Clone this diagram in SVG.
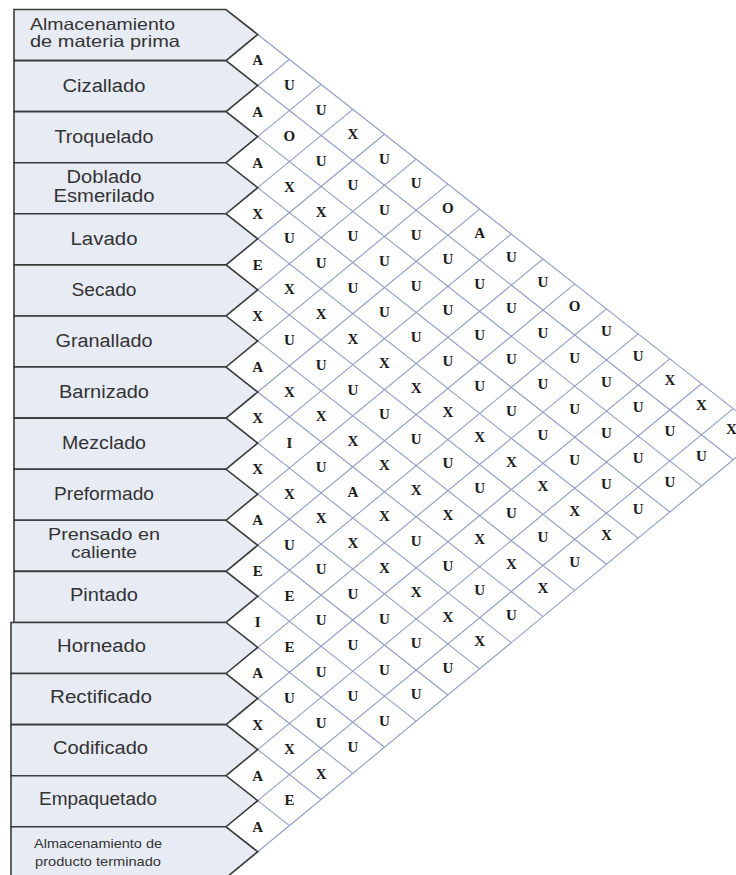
<svg xmlns="http://www.w3.org/2000/svg" width="736" height="875" viewBox="0 0 736 875">
<style>
.box{fill:#e7ebf4;stroke:#3a3a3a;stroke-width:1.6;stroke-linejoin:miter}
.lbl{font-family:"Liberation Sans",Arial,sans-serif;font-size:18px;fill:#333;text-anchor:middle}
.two{font-size:16.5px}
.sm{font-size:13.5px}
.g{fill:none;stroke:#8e9cc7;stroke-width:1.1}
.r text{font-family:"Liberation Serif","Times New Roman",serif;font-weight:bold;font-size:15px;fill:#1c1c1c;text-anchor:middle}
</style>
<rect width="736" height="875" fill="#fff"/>
<g id="grid" class="g">
<path d="M257.7,34.45 l507.2,399.2 M257.7,85.53 l475.5,374.25 M257.7,136.61 l443.8,349.3 M257.7,187.69 l412.1,324.35 M257.7,238.77 l380.4,299.4 M257.7,289.85 l348.7,274.45 M257.7,340.93 l317,249.5 M257.7,392.01 l285.3,224.55 M257.7,443.09 l253.6,199.6 M257.7,494.17 l221.9,174.65 M257.7,545.25 l190.2,149.7 M257.7,596.33 l158.5,124.75 M257.7,647.41 l126.8,99.8 M257.7,698.49 l95.1,74.85 M257.7,749.57 l63.4,49.9 M257.7,800.65 l31.7,24.95"/>
<path d="M257.7,85.53 l31.7,-26.13 M257.7,136.61 l63.4,-52.26 M257.7,187.69 l95.1,-78.39 M257.7,238.77 l126.8,-104.52 M257.7,289.85 l158.5,-130.65 M257.7,340.93 l190.2,-156.78 M257.7,392.01 l221.9,-182.91 M257.7,443.09 l253.6,-209.04 M257.7,494.17 l285.3,-235.17 M257.7,545.25 l317,-261.3 M257.7,596.33 l348.7,-287.43 M257.7,647.41 l380.4,-313.56 M257.7,698.49 l412.1,-339.69 M257.7,749.57 l443.8,-365.82 M257.7,800.65 l475.5,-391.95 M257.7,851.73 l507.2,-418.08"/>
</g>
<g id="d1"><polygon class="box" points="14,9.5 226,9.5 257.7,34.45 226,60.58 14,60.58"/><text class="lbl two" x="30" y="29.5" style="text-anchor:start" textLength="145" lengthAdjust="spacingAndGlyphs">Almacenamiento</text><text class="lbl two" x="30" y="47" style="text-anchor:start" textLength="150" lengthAdjust="spacingAndGlyphs">de materia prima</text></g>
<g id="d2"><polygon class="box" points="14,60.58 226,60.58 257.7,85.53 226,111.66 14,111.66"/><text class="lbl" x="104" y="91.5" textLength="83" lengthAdjust="spacingAndGlyphs">Cizallado</text></g>
<g id="d3"><polygon class="box" points="14,111.66 226,111.66 257.7,136.61 226,162.74 14,162.74"/><text class="lbl" x="104" y="142.5" textLength="99" lengthAdjust="spacingAndGlyphs">Troquelado</text></g>
<g id="d4"><polygon class="box" points="14,162.74 226,162.74 257.7,187.69 226,213.82 14,213.82"/><text class="lbl" x="104" y="183" textLength="75" lengthAdjust="spacingAndGlyphs">Doblado</text><text class="lbl" x="104" y="202" textLength="101" lengthAdjust="spacingAndGlyphs">Esmerilado</text></g>
<g id="d5"><polygon class="box" points="14,213.82 226,213.82 257.7,238.77 226,264.9 14,264.9"/><text class="lbl" x="104" y="245" textLength="67" lengthAdjust="spacingAndGlyphs">Lavado</text></g>
<g id="d6"><polygon class="box" points="14,264.9 226,264.9 257.7,289.85 226,315.98 14,315.98"/><text class="lbl" x="104" y="296" textLength="65" lengthAdjust="spacingAndGlyphs">Secado</text></g>
<g id="d7"><polygon class="box" points="14,315.98 226,315.98 257.7,340.93 226,367.06 14,367.06"/><text class="lbl" x="104" y="347" textLength="97" lengthAdjust="spacingAndGlyphs">Granallado</text></g>
<g id="d8"><polygon class="box" points="14,367.06 226,367.06 257.7,392.01 226,418.14 14,418.14"/><text class="lbl" x="104" y="398" textLength="90" lengthAdjust="spacingAndGlyphs">Barnizado</text></g>
<g id="d9"><polygon class="box" points="14,418.14 226,418.14 257.7,443.09 226,469.22 14,469.22"/><text class="lbl" x="104" y="449" textLength="84" lengthAdjust="spacingAndGlyphs">Mezclado</text></g>
<g id="d10"><polygon class="box" points="14,469.22 226,469.22 257.7,494.17 226,520.3 14,520.3"/><text class="lbl" x="104" y="500" textLength="100" lengthAdjust="spacingAndGlyphs">Preformado</text></g>
<g id="d11"><polygon class="box" points="14,520.3 226,520.3 257.7,545.25 226,571.38 14,571.38"/><text class="lbl two" x="104" y="540" textLength="112" lengthAdjust="spacingAndGlyphs">Prensado en</text><text class="lbl two" x="104" y="558" textLength="66" lengthAdjust="spacingAndGlyphs">caliente</text></g>
<g id="d12"><polygon class="box" points="14,571.38 226,571.38 257.7,596.33 226,622.46 14,622.46"/><text class="lbl" x="104" y="601" textLength="68" lengthAdjust="spacingAndGlyphs">Pintado</text></g>
<g id="d13"><polygon class="box" points="11,622.46 226,622.46 257.7,647.41 226,673.54 11,673.54"/><text class="lbl" x="101.5" y="652" textLength="89" lengthAdjust="spacingAndGlyphs">Horneado</text></g>
<g id="d14"><polygon class="box" points="11,673.54 226,673.54 257.7,698.49 226,724.62 11,724.62"/><text class="lbl" x="101" y="703" textLength="102" lengthAdjust="spacingAndGlyphs">Rectificado</text></g>
<g id="d15"><polygon class="box" points="11,724.62 226,724.62 257.7,749.57 226,775.7 11,775.7"/><text class="lbl" x="100.5" y="754" textLength="95" lengthAdjust="spacingAndGlyphs">Codificado</text></g>
<g id="d16"><polygon class="box" points="11,775.7 226,775.7 257.7,800.65 226,826.78 11,826.78"/><text class="lbl" x="98" y="805" textLength="118" lengthAdjust="spacingAndGlyphs">Empaquetado</text></g>
<g id="d17"><polygon class="box" points="11,826.78 226,826.78 257.7,851.73 226,877.86 11,877.86"/><text class="lbl sm" x="98" y="848" textLength="128" lengthAdjust="spacingAndGlyphs">Almacenamiento de</text><text class="lbl sm" x="98" y="866" textLength="126" lengthAdjust="spacingAndGlyphs">producto terminado</text></g>
<g id="relations" class="r">
<g transform="translate(0,35.04)"><text x="257.7" y="30.45">A</text><text x="289.4" y="55.05">U</text><text x="321.1" y="79.65">U</text><text x="352.8" y="104.25">X</text><text x="384.5" y="128.85">U</text><text x="416.2" y="153.45">U</text><text x="447.9" y="178.05">O</text><text x="479.6" y="202.65">A</text><text x="511.3" y="227.25">U</text><text x="543" y="251.85">U</text><text x="574.7" y="276.45">O</text><text x="606.4" y="301.05">U</text><text x="638.1" y="325.65">U</text><text x="669.8" y="350.25">X</text><text x="701.5" y="374.85">X</text><text x="731.5" y="399.45">X</text></g>
<g transform="translate(0,86.12)"><text x="257.7" y="30.45">A</text><text x="289.4" y="55.05">O</text><text x="321.1" y="79.65">U</text><text x="352.8" y="104.25">U</text><text x="384.5" y="128.85">U</text><text x="416.2" y="153.45">U</text><text x="447.9" y="178.05">U</text><text x="479.6" y="202.65">U</text><text x="511.3" y="227.25">U</text><text x="543" y="251.85">U</text><text x="574.7" y="276.45">U</text><text x="606.4" y="301.05">U</text><text x="638.1" y="325.65">U</text><text x="669.8" y="350.25">U</text><text x="701.5" y="374.85">U</text></g>
<g transform="translate(0,137.2)"><text x="257.7" y="30.45">A</text><text x="289.4" y="55.05">X</text><text x="321.1" y="79.65">X</text><text x="352.8" y="104.25">U</text><text x="384.5" y="128.85">U</text><text x="416.2" y="153.45">U</text><text x="447.9" y="178.05">U</text><text x="479.6" y="202.65">U</text><text x="511.3" y="227.25">U</text><text x="543" y="251.85">U</text><text x="574.7" y="276.45">U</text><text x="606.4" y="301.05">U</text><text x="638.1" y="325.65">U</text><text x="669.8" y="350.25">U</text></g>
<g transform="translate(0,188.28)"><text x="257.7" y="30.45">X</text><text x="289.4" y="55.05">U</text><text x="321.1" y="79.65">U</text><text x="352.8" y="104.25">U</text><text x="384.5" y="128.85">U</text><text x="416.2" y="153.45">U</text><text x="447.9" y="178.05">U</text><text x="479.6" y="202.65">U</text><text x="511.3" y="227.25">U</text><text x="543" y="251.85">U</text><text x="574.7" y="276.45">U</text><text x="606.4" y="301.05">U</text><text x="638.1" y="325.65">U</text></g>
<g transform="translate(0,239.36)"><text x="257.7" y="30.45">E</text><text x="289.4" y="55.05">X</text><text x="321.1" y="79.65">X</text><text x="352.8" y="104.25">X</text><text x="384.5" y="128.85">X</text><text x="416.2" y="153.45">X</text><text x="447.9" y="178.05">X</text><text x="479.6" y="202.65">X</text><text x="511.3" y="227.25">X</text><text x="543" y="251.85">X</text><text x="574.7" y="276.45">X</text><text x="606.4" y="301.05">X</text></g>
<g transform="translate(0,290.44)"><text x="257.7" y="30.45">X</text><text x="289.4" y="55.05">U</text><text x="321.1" y="79.65">U</text><text x="352.8" y="104.25">U</text><text x="384.5" y="128.85">U</text><text x="416.2" y="153.45">U</text><text x="447.9" y="178.05">U</text><text x="479.6" y="202.65">U</text><text x="511.3" y="227.25">U</text><text x="543" y="251.85">U</text><text x="574.7" y="276.45">U</text></g>
<g transform="translate(0,341.52)"><text x="257.7" y="30.45">A</text><text x="289.4" y="55.05">X</text><text x="321.1" y="79.65">X</text><text x="352.8" y="104.25">X</text><text x="384.5" y="128.85">X</text><text x="416.2" y="153.45">X</text><text x="447.9" y="178.05">X</text><text x="479.6" y="202.65">X</text><text x="511.3" y="227.25">X</text><text x="543" y="251.85">X</text></g>
<g transform="translate(0,392.6)"><text x="257.7" y="30.45">X</text><text x="289.4" y="55.05">I</text><text x="321.1" y="79.65">U</text><text x="352.8" y="104.25">A</text><text x="384.5" y="128.85">X</text><text x="416.2" y="153.45">U</text><text x="447.9" y="178.05">U</text><text x="479.6" y="202.65">U</text><text x="511.3" y="227.25">U</text></g>
<g transform="translate(0,443.68)"><text x="257.7" y="30.45">X</text><text x="289.4" y="55.05">X</text><text x="321.1" y="79.65">X</text><text x="352.8" y="104.25">X</text><text x="384.5" y="128.85">X</text><text x="416.2" y="153.45">X</text><text x="447.9" y="178.05">X</text><text x="479.6" y="202.65">X</text></g>
<g transform="translate(0,494.76)"><text x="257.7" y="30.45">A</text><text x="289.4" y="55.05">U</text><text x="321.1" y="79.65">U</text><text x="352.8" y="104.25">U</text><text x="384.5" y="128.85">U</text><text x="416.2" y="153.45">U</text><text x="447.9" y="178.05">U</text></g>
<g transform="translate(0,545.84)"><text x="257.7" y="30.45">E</text><text x="289.4" y="55.05">E</text><text x="321.1" y="79.65">U</text><text x="352.8" y="104.25">U</text><text x="384.5" y="128.85">U</text><text x="416.2" y="153.45">U</text></g>
<g transform="translate(0,596.92)"><text x="257.7" y="30.45">I</text><text x="289.4" y="55.05">E</text><text x="321.1" y="79.65">U</text><text x="352.8" y="104.25">U</text><text x="384.5" y="128.85">U</text></g>
<g transform="translate(0,648)"><text x="257.7" y="30.45">A</text><text x="289.4" y="55.05">U</text><text x="321.1" y="79.65">U</text><text x="352.8" y="104.25">U</text></g>
<g transform="translate(0,699.08)"><text x="257.7" y="30.45">X</text><text x="289.4" y="55.05">X</text><text x="321.1" y="79.65">X</text></g>
<g transform="translate(0,750.16)"><text x="257.7" y="30.45">A</text><text x="289.4" y="55.05">E</text></g>
<g transform="translate(0,801.24)"><text x="257.7" y="30.45">A</text></g>
</g>
</svg>
